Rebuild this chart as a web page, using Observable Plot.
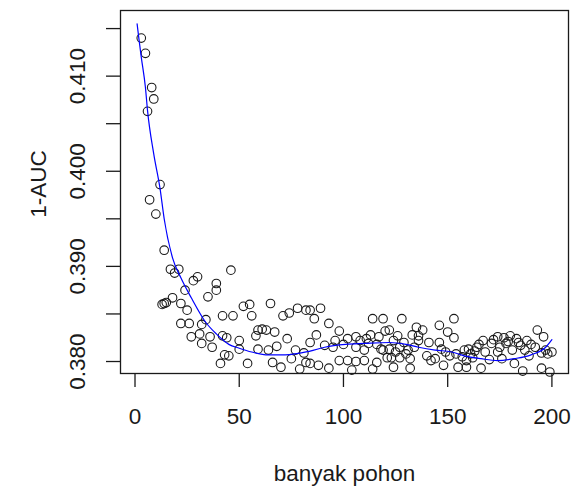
<!DOCTYPE html>
<html>
<head>
<meta charset="utf-8">
<script src="https://cdn.jsdelivr.net/npm/d3@7"></script>
<script src="https://cdn.jsdelivr.net/npm/@observablehq/plot@0.6"></script>
<style>
  html, body { margin: 0; padding: 0; background: #fff; }
  svg { display: block; }
</style>
</head>
<body>
<div id="chart"></div>
<script>
// number of trees (banyak pohon) and observed 1-AUC
const treeCounts = [
  3,5,6,8,9,12,7,10,
  14,17,19,21,24,28,30,13,14,15,18,22,25,35,39,39,46,42,22,26,34,32,27,31,32,36,37,42,41,43,
  47,52,55,56,65,71,74,78,82,58,59,61,63,67,73,50,44,45,50,54,59,64,68,66,70,75,77,81,82,79,
  84,89,86,93,114,119,87,84,98,102,106,120,91,95,106,112,116,118,121,84,88,93,98,102,106,110,116,119,104,114,
  128,153,146,138,122,126,136,150,153,136,141,146,134,122,127,131,140,144,142,149,154,158,123,127,132,124,132,148,155,159,
  193,196,174,180,183,188,171,178,185,192,160,164,168,174,181,195,200,198,162,170,176,189,159,166,182,195,199,186,
  165,167,172,175,177,179,184,187,190,197,161,163,157,151,147,
  96,100,108,110,111,113,117,124,129,125,130,133,135
];
const oneMinusAUC = [
  0.4140,0.4124,0.4063,0.4088,0.4076,0.3986,0.3970,0.3955,
  0.3917,0.3897,0.3893,0.3897,0.3875,0.3885,0.3889,0.3860,0.3861,0.3862,0.3867,0.3861,0.3854,0.3868,0.3882,0.3875,0.3896,0.3848,0.3840,0.3840,0.3844,0.3839,0.3826,0.3829,0.3819,0.3826,0.3815,0.3827,0.3798,0.3807,
  0.3848,0.3858,0.3860,0.3848,0.3861,0.3848,0.3851,0.3856,0.3854,0.3827,0.3833,0.3834,0.3833,0.3831,0.3824,0.3822,0.3825,0.3806,0.3813,0.3798,0.3813,0.3812,0.3816,0.3799,0.3794,0.3803,0.3812,0.3809,0.3799,0.3792,
  0.3854,0.3856,0.3845,0.3840,0.3845,0.3845,0.3828,0.3820,0.3832,0.3824,0.3826,0.3832,0.3817,0.3815,0.3815,0.3819,0.3818,0.3813,0.3804,0.3798,0.3796,0.3793,0.3801,0.3801,0.3800,0.3801,0.3799,0.3812,0.3791,0.3792,
  0.3845,0.3845,0.3838,0.3833,0.3833,0.3827,0.3827,0.3831,0.3825,0.3822,0.3820,0.3820,0.3815,0.3813,0.3815,0.3812,0.3806,0.3803,0.3801,0.3810,0.3808,0.3812,0.3804,0.3804,0.3803,0.3794,0.3793,0.3796,0.3794,0.3801,
  0.3833,0.3826,0.3826,0.3827,0.3824,0.3822,0.3819,0.3819,0.3817,0.3815,0.3813,0.3815,0.3810,0.3810,0.3812,0.3809,0.3810,0.3808,0.3804,0.3802,0.3803,0.3806,0.3794,0.3793,0.3798,0.3793,0.3789,0.3790,
  0.3818,0.3822,0.3823,0.3815,0.3825,0.3821,0.3820,0.3812,0.3818,0.3812,0.3808,0.3811,0.3805,0.3806,0.3813,
  0.3822,0.3818,0.3822,0.3812,0.3824,0.3828,0.3826,0.3822,0.3820,0.3810,0.3808,0.3828,0.3836
];
// smooth fitted curve
const fitX = [1,2,3,5,6,9,12,14,18,22,27,34,39,45,50,56,64,72,84,91,101,110,122,130,136,144,152,158,166,174,182,190,197,200];
const fitY = [0.4155,0.4137,0.4120,0.4088,0.4064,0.4018,0.3982,0.3950,0.3909,0.3888,0.3867,0.3841,0.3829,0.3818,0.3814,0.3810,0.3807,0.3807,0.3811,0.3815,0.3818,0.3819,0.3820,0.3818,0.3815,0.3812,0.3810,0.3806,0.3803,0.3801,0.3803,0.3807,0.3815,0.3823];

const xTicks = [0, 50, 100, 150, 200];
const yTicks = [0.380, 0.385, 0.390, 0.395, 0.400, 0.405, 0.410, 0.415];
const yTickLabels = [0.380, 0.390, 0.400, 0.410];
const xTitle = "banyak pohon";
const yTitle = "1-AUC";

const points = treeCounts.map((x, i) => ({x, y: oneMinusAUC[i]}));
const fit = fitX.map((x, i) => ({x, y: fitY[i]}));

const ink = "#1a1a1a";
const chart = Plot.plot({
  width: 572,
  height: 491,
  marginLeft: 120,
  marginRight: 4,
  marginTop: 10,
  marginBottom: 118,
  style: {fontFamily: "Liberation Sans, Arial, sans-serif", fontSize: "22.5px", color: ink, background: "#fff"},
  x: {domain: [-6.96, 207.96]},
  y: {domain: [0.37874, 0.4169]},
  marks: [
    Plot.axisX({ticks: xTicks, tickSize: 14, tickPadding: 21, tickFormat: d => String(d), label: null, stroke: ink, strokeWidth: 1.3, fill: ink}),
    Plot.axisY({ticks: yTicks, tickSize: 14, tickFormat: () => "", label: null, stroke: ink, strokeWidth: 1.3}),
    Plot.text(yTickLabels, {y: d => d, text: d => d.toFixed(3), frameAnchor: "left", dx: -43, rotate: -90, textAnchor: "middle", lineAnchor: "middle", fill: ink}),
    Plot.text([yTitle], {text: d => d, frameAnchor: "left", dx: -82, dy: -8, rotate: -90, textAnchor: "middle", lineAnchor: "middle", fill: ink}),
    Plot.text([xTitle], {text: d => d, frameAnchor: "bottom", dy: 100, textAnchor: "middle", lineAnchor: "middle", fill: ink}),
    Plot.dot(points, {x: "x", y: "y", r: 4.3, stroke: ink, strokeWidth: 1.1, fill: "none"}),
    Plot.line(fit, {x: "x", y: "y", stroke: "#0000ff", strokeWidth: 1.2, curve: "monotone-x"}),
    Plot.frame({stroke: ink, strokeWidth: 1.3})
  ]
});
document.getElementById("chart").appendChild(chart);
</script>
</body>
</html>
